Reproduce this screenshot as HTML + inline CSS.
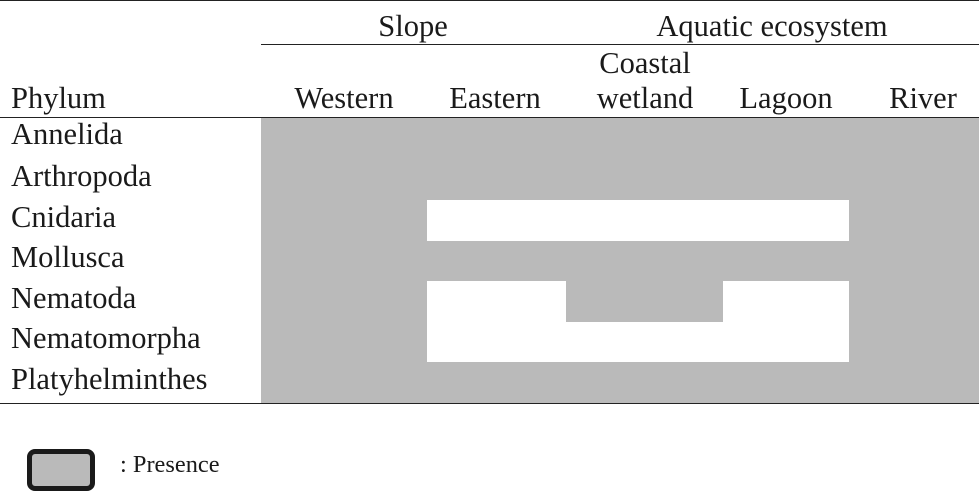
<!DOCTYPE html>
<html>
<head>
<meta charset="utf-8">
<style>
html,body{margin:0;padding:0;background:#fff;}
#c{position:relative;width:979px;height:491px;overflow:hidden;background:#fff;font-family:"Liberation Serif",serif;color:#1a1a1a;}
.t{position:absolute;font-size:30.5px;line-height:32px;white-space:nowrap;}
.m{transform:translateX(-50%);}
.r{position:absolute;background:#bababa;}
.w{position:absolute;background:#fff;}
.l{position:absolute;background:#222;}
</style>
</head>
<body>
<div id="c">
<div class="l" style="left:0;top:0;width:979px;height:1.3px;"></div>
<div class="l" style="left:261px;top:44px;width:718px;height:1.2px;"></div>
<div class="r" style="left:261px;top:118px;width:718px;height:285px;"></div>
<div class="l" style="left:0;top:116.5px;width:979px;height:1.5px;"></div>
<div class="w" style="left:427px;top:200px;width:422px;height:40.5px;"></div>
<div class="w" style="left:427px;top:281px;width:422px;height:81px;"></div>
<div class="r" style="left:565.5px;top:281px;width:157px;height:40.7px;"></div>
<div class="l" style="left:0;top:402.5px;width:979px;height:1.4px;"></div>
<div class="t m" style="left:413px;top:10px;">Slope</div>
<div class="t m" style="left:772px;top:10px;">Aquatic ecosystem</div>
<div class="t m" style="left:645px;top:47px;">Coastal</div>
<div class="t" style="left:11px;top:82px;">Phylum</div>
<div class="t m" style="left:344px;top:82px;">Western</div>
<div class="t m" style="left:495px;top:82px;">Eastern</div>
<div class="t m" style="left:645px;top:82px;">wetland</div>
<div class="t m" style="left:786px;top:82px;">Lagoon</div>
<div class="t m" style="left:923px;top:82px;">River</div>
<div class="t" style="left:11px;top:118px;">Annelida</div>
<div class="t" style="left:11px;top:160px;">Arthropoda</div>
<div class="t" style="left:11px;top:201px;">Cnidaria</div>
<div class="t" style="left:11px;top:241px;">Mollusca</div>
<div class="t" style="left:11px;top:282px;">Nematoda</div>
<div class="t" style="left:11px;top:322px;">Nematomorpha</div>
<div class="t" style="left:11px;top:363px;">Platyhelminthes</div>
<div style="position:absolute;left:27px;top:449px;width:58px;height:32px;background:#bababa;border:5px solid #1a1a1a;border-radius:8px;"></div>
<div class="t" style="left:120px;top:450px;font-size:24.4px;line-height:30px;">: Presence</div>
</div>
</body>
</html>
